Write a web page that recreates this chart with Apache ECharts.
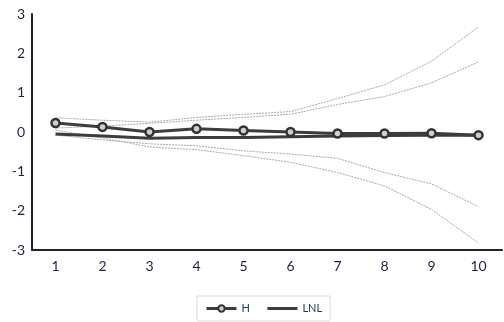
<!DOCTYPE html>
<html>
<head>
<meta charset="utf-8">
<script src="https://cdn.jsdelivr.net/npm/echarts@6/dist/echarts.min.js"></script>
<style>html,body{margin:0;padding:0;background:#fff}#c{width:504px;height:322px}</style>
</head>
<body>
<div id="c"></div>
<script>
const categories = ['1','2','3','4','5','6','7','8','9','10'];
const H = [0.23, 0.13, 0.0, 0.08, 0.04, 0.0, -0.04, -0.04, -0.03, -0.08];
const LNL = [-0.05, -0.1, -0.16, -0.14, -0.14, -0.12, -0.1, -0.09, -0.08, -0.08];
const H_upper = [0.36, 0.3, 0.25, 0.37, 0.45, 0.52, 0.85, 1.2, 1.8, 2.67];
const LNL_upper = [0.1, 0.15, 0.22, 0.3, 0.37, 0.45, 0.7, 0.9, 1.25, 1.78];
const LNL_lower = [-0.08, -0.2, -0.3, -0.35, -0.48, -0.56, -0.67, -1.03, -1.32, -1.9];
const H_lower = [0.05, -0.15, -0.38, -0.45, -0.6, -0.77, -1.03, -1.37, -1.97, -2.82];

const chart = echarts.init(document.getElementById('c'));
const band = (name, data) => ({
  name, type: 'line', data, symbol: 'none', silent: true,
  lineStyle: {color: '#a8a8a8', width: 1, type: [2, 1]}, z: 1
});
chart.setOption({
  animation: false,
  grid: {left: 32, right: 2, top: 14, bottom: 72},
  legend: {
    data: [
      {name: 'H', lineStyle: {width: 3, color: '#3c3c3c'}},
      {name: 'LNL', itemStyle: {opacity: 0}, lineStyle: {width: 3, color: '#3c3c3c'}}
    ],
    bottom: 1, left: 197,
    borderColor: '#dcdcdc', borderWidth: 1, padding: [7, 8, 7, 8],
    itemWidth: 30, itemHeight: 8, itemGap: 16,
    textStyle: {fontFamily: 'Lato', fontSize: 11, color: '#1f3a6e'}
  },
  xAxis: {
    type: 'category', data: categories, boundaryGap: true,
    axisLine: {onZero: false, lineStyle: {color: '#222', width: 2}},
    axisTick: {show: false},
    axisLabel: {fontFamily: 'Lato', fontSize: 14, color: '#1a2340', margin: 9}
  },
  yAxis: {
    type: 'value', min: -3, max: 3, interval: 1,
    splitLine: {show: false},
    axisLine: {show: true, lineStyle: {color: '#222', width: 2}},
    axisTick: {show: false},
    axisLabel: {fontFamily: 'Lato', fontSize: 14, color: '#1a2340', margin: 7}
  },
  series: [
    band('H upper', H_upper),
    band('LNL upper', LNL_upper),
    band('LNL lower', LNL_lower),
    band('H lower', H_lower),
    {name: 'LNL', type: 'line', data: LNL, symbol: 'none',
     lineStyle: {color: '#3c3c3c', width: 3}, itemStyle: {color: '#3c3c3c'}, z: 3},
    {name: 'H', type: 'line', data: H, symbol: 'circle', symbolSize: 8,
     lineStyle: {color: '#3c3c3c', width: 3},
     itemStyle: {color: '#cfcfcf', borderColor: '#333', borderWidth: 2.5}, z: 4}
  ]
});
</script>
</body>
</html>
